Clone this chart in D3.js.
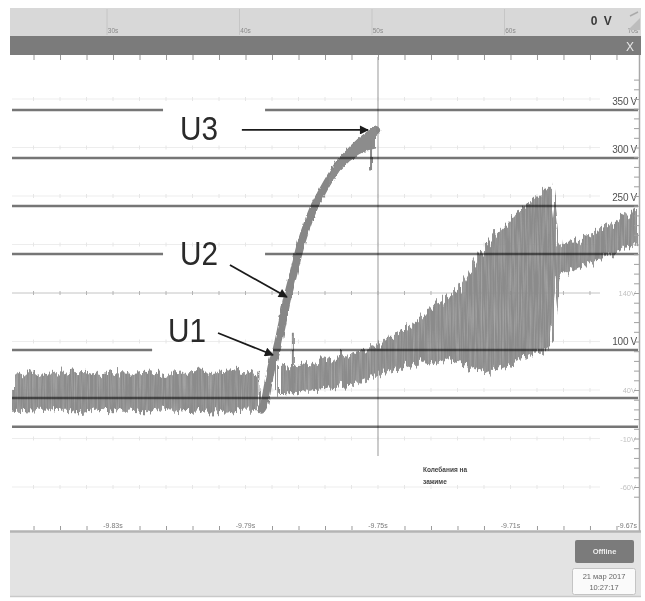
<!DOCTYPE html>
<html>
<head>
<meta charset="utf-8">
<script src="https://cdn.jsdelivr.net/npm/d3@7"></script>
<style>
  html, body { margin: 0; padding: 0; background: #fff; }
  svg { display: block; font-family: "Liberation Sans", Arial, sans-serif; }
</style>
</head>
<body>
<svg id="scope" width="645" height="601"></svg>
<script>
// ---- time axis ----
const tickTimes  = [-9.83, -9.79, -9.75, -9.71, -9.67];
const tickLabels = ["-9.83s", "-9.79s", "-9.75s", "-9.71s", "-9.67s"];
const overviewLabels = ["30s", "40s", "50s", "60s", "70s"];

// ---- voltage reference levels ----
const levelValues = [350, 300, 250, 200, 100, 50, 20];
const levelGapStart = [-9.8149, null, null, -9.8149, -9.8182, null, null];
const levelGapEnd   = [-9.7841, null, null, -9.7841, -9.7817, null, null];
const levelLabelValues = [350, 300, 250, 100];
const levelLabels = ["350 V", "300 V", "250 V", "100 V"];

// faint auxiliary channel grid
const auxRows = [340, 290, 240, 190, 140, 90, 40, -10, -60];
const auxLabelValues = [140, 40, -10, -60];
const auxLabels = ["140V", "40V", "-10V", "-60V"];

// ---- trace U (baseline before the step), V ----
const baseTime = [-9.8605, -9.855, -9.850, -9.845, -9.840, -9.835, -9.830, -9.825,
                  -9.820, -9.815, -9.810, -9.805, -9.800, -9.795, -9.790, -9.7852];
const baseHigh = [75, 77, 74, 76, 78, 75, 77, 76, 79, 75, 77, 78, 76, 79, 77, 75];
const baseLow  = [37, 36, 39, 37, 35, 38, 36, 37, 35, 38, 36, 37, 35, 36, 38, 37];

// ---- rising edge U1 -> U2 -> U3, V ----
const riseTime  = [-9.7852, -9.7844, -9.7832, -9.7820, -9.7805, -9.7790, -9.7775, -9.7760,
                   -9.7745, -9.7729, -9.7711, -9.7690, -9.7669, -9.7645, -9.7615, -9.7585,
                   -9.7554, -9.7530, -9.7506];
const riseVolts = [38, 43, 63.5, 84.4, 102, 126, 152, 173, 194, 214.6, 233, 251, 264.6,
                   279, 295, 306, 316.7, 323, 329];
// noisy crest of the edge
const crestTime = [-9.7645, -9.7615, -9.7585, -9.7554, -9.7530, -9.7506];
const crestHigh = [284, 300, 312, 322, 328, 334];
const crestLow  = [272, 287, 297, 304, 308, 310];

// ---- second trace (after the step, with oscillation), V ----
const trace2Time = [-9.7805, -9.775, -9.770, -9.765, -9.760, -9.755, -9.750, -9.745, -9.740,
                    -9.735, -9.730, -9.725, -9.720, -9.715, -9.710, -9.705, -9.700, -9.6975,
                    -9.6955, -9.695, -9.690, -9.685, -9.680, -9.675, -9.6715];
const trace2High = [81, 84, 87, 90, 95, 100, 107, 116, 126, 140, 152, 165, 196, 220, 238,
                    251, 265, 272, 212, 209, 215, 223, 230, 241, 248];
const trace2Low  = [53, 56, 58, 60, 63, 67, 74, 79, 84, 87, 90, 84, 79, 77, 84, 92, 100,
                    108, 168, 180, 185, 192, 199, 206, 211];

// isolated spikes
const spikeTime = [-9.7757, -9.7521];
const spikeHigh = [119, 319];
const spikeLow  = [53, 287];

// ---- annotations ----
const noteNames  = ["U3", "U2", "U1"];
const noteTime   = [-9.8098, -9.8098, -9.8134];
const noteVolt   = [318.75, 188.5, 108.3];
const arrowFromT = [-9.7911, -9.7947, -9.7983];
const arrowFromV = [329.2, 188.5, 117.7];
const arrowToT   = [-9.7530, -9.7775, -9.7817];
const arrowToV   = [329.2, 155.2, 94.8];
const memoLines  = ["Колебания на", "зажиме"];

// ---- scales ----
const x = d3.scaleLinear().domain([-9.8605, -9.6715]).range([12, 638]);
const y = d3.scaleLinear().domain([0, 350]).range([446, 110]);
const yAux = d3.scaleLinear().domain([-60, 140]).range([487, 293]);

const svg = d3.select("#scope");
const defs = svg.append("defs");

// grain for the sampled traces
const f = defs.append("filter").attr("id", "grain")
  .attr("filterUnits", "userSpaceOnUse").attr("x", 0).attr("y", 0)
  .attr("width", 645).attr("height", 601);
f.append("feTurbulence").attr("type", "fractalNoise").attr("baseFrequency", "0.4 0.015")
  .attr("numOctaves", 2).attr("seed", 7).attr("result", "n");
f.append("feDisplacementMap").attr("in", "SourceGraphic").attr("in2", "n").attr("scale", 18)
  .attr("xChannelSelector", "B").attr("yChannelSelector", "G").attr("result", "d");
f.append("feTurbulence").attr("type", "fractalNoise").attr("baseFrequency", "0.7 0.03")
  .attr("numOctaves", 1).attr("seed", 3).attr("result", "n2");
f.append("feColorMatrix").attr("in", "n2").attr("type", "matrix")
  .attr("values", "0 0 0 0 0  0 0 0 0 0  0 0 0 0 0  0.6 0 0 0 0.65").attr("result", "m");
f.append("feComposite").attr("in", "d").attr("in2", "m").attr("operator", "in").attr("result", "s");
f.append("feGaussianBlur").attr("in", "s").attr("stdDeviation", 0.7);

const f2 = defs.append("filter").attr("id", "grainSoft")
  .attr("filterUnits", "userSpaceOnUse").attr("x", 0).attr("y", 0)
  .attr("width", 645).attr("height", 601);
f2.append("feTurbulence").attr("type", "fractalNoise").attr("baseFrequency", "0.5 0.08")
  .attr("numOctaves", 2).attr("seed", 11).attr("result", "n");
f2.append("feDisplacementMap").attr("in", "SourceGraphic").attr("in2", "n").attr("scale", 3.5)
  .attr("xChannelSelector", "R").attr("yChannelSelector", "G").attr("result", "d");
f2.append("feGaussianBlur").attr("in", "d").attr("stdDeviation", 0.6);

defs.append("clipPath").attr("id", "plotClip").append("rect")
  .attr("x", 12).attr("y", 56).attr("width", 626).attr("height", 474);

const ah = defs.append("marker").attr("id", "head").attr("viewBox", "0 0 10 10")
  .attr("refX", 9).attr("refY", 5).attr("markerWidth", 7).attr("markerHeight", 5)
  .attr("markerUnits", "strokeWidth").attr("orient", "auto");
ah.append("path").attr("d", "M0,0 L10,5 L0,10 Z").attr("fill", "#1b1b1b");

// ---- header strip ----
svg.append("rect").attr("x", 10).attr("y", 8).attr("width", 631).attr("height", 28).attr("fill", "#d8d8d8");
svg.append("g").selectAll("line").data(tickTimes.slice(0, 4)).join("line")
  .attr("x1", d => x(d) - 6).attr("x2", d => x(d) - 6).attr("y1", 9).attr("y2", 35)
  .attr("stroke", "#c6c6c6").attr("stroke-width", 1);
svg.append("g").selectAll("text").data(overviewLabels).join("text")
  .attr("x", (d, i) => Math.min(x(tickTimes[i]), 633)).attr("y", 33)
  .attr("text-anchor", "middle").attr("font-size", 6.5).attr("fill", "#8a8a8a").text(d => d);
svg.append("text").attr("x", 602).attr("y", 25).attr("text-anchor", "middle")
  .attr("font-size", 12).attr("font-weight", "bold").attr("letter-spacing", 1.5)
  .attr("fill", "#3a3a3a").text("0 V");
svg.append("path").attr("d", "M628,30 L640,18 L640,30 Z").attr("fill", "#bdbdbd");
svg.append("path").attr("d", "M630,16 L638,12").attr("stroke", "#aaa").attr("stroke-width", 1.5);

svg.append("rect").attr("x", 10).attr("y", 36).attr("width", 631).attr("height", 19).attr("fill", "#7b7b7b");
svg.append("text").attr("x", 630).attr("y", 51).attr("text-anchor", "middle")
  .attr("font-size", 12).attr("fill", "#e6e6e6").text("X");

const minorTimes = d3.range(0, 24).map(k => -9.854 + 0.008 * k);
const topAxis = svg.append("g").attr("transform", "translate(0,55)")
  .call(d3.axisBottom(x).tickValues(minorTimes.filter(t => x(t) < 636)).tickSize(5).tickFormat(""));
topAxis.select(".domain").remove();
topAxis.selectAll("line").attr("stroke", "#9a9a9a");

// ---- faint grid ----
const plot = svg.append("g");
plot.append("g").selectAll("line").data(auxRows).join("line")
  .attr("x1", 12).attr("x2", 600).attr("y1", d => yAux(d)).attr("y2", d => yAux(d))
  .attr("stroke", d => d === 140 ? "#c4c4c4" : "#ededed").attr("stroke-width", 1);
auxRows.forEach(r => {
  plot.append("g").selectAll("line").data(minorTimes.filter(t => x(t) < 600)).join("line")
    .attr("x1", d => x(d)).attr("x2", d => x(d))
    .attr("y1", yAux(r) - 2).attr("y2", yAux(r) + 2)
    .attr("stroke", r === 140 ? "#b4b4b4" : "#e6e6e6").attr("stroke-width", 1);
});
plot.append("g").selectAll("text").data(auxLabels).join("text")
  .attr("x", 636).attr("y", (d, i) => yAux(auxLabelValues[i]) + 3)
  .attr("text-anchor", "end").attr("font-size", 7.5).attr("fill", "#c2c2c2").text(d => d);

// trigger cursor
plot.append("line").attr("x1", x(-9.75)).attr("x2", x(-9.75)).attr("y1", 57).attr("y2", 456)
  .attr("stroke", "#a9a9a9").attr("stroke-width", 1.2);

// ---- traces ----
const traces = plot.append("g").attr("clip-path", "url(#plotClip)");
const band = (T, H, L) => d3.area().x((d, i) => x(T[i])).y0((d, i) => y(L[i])).y1((d, i) => y(H[i]))(T);

const noisy = traces.append("g").attr("filter", "url(#grain)");
noisy.append("path").attr("d", band(baseTime, baseHigh, baseLow)).attr("fill", "#8b8b8b");
noisy.append("path").attr("d", band(trace2Time, trace2High, trace2Low)).attr("fill", "#8b8b8b");

const soft = traces.append("g").attr("filter", "url(#grainSoft)");
soft.append("path")
  .attr("d", d3.line().x((d, i) => x(riseTime[i])).y((d, i) => y(riseVolts[i])).curve(d3.curveCatmullRom)(riseTime))
  .attr("fill", "none").attr("stroke", "#878787").attr("stroke-width", 8).attr("stroke-linecap", "round");
soft.append("path").attr("d", band(crestTime, crestHigh, crestLow)).attr("fill", "#8c8c8c");
soft.selectAll("line.spike").data(spikeTime).join("line").attr("class", "spike")
  .attr("x1", d => x(d)).attr("x2", d => x(d))
  .attr("y1", (d, i) => y(spikeHigh[i])).attr("y2", (d, i) => y(spikeLow[i]))
  .attr("stroke", "#8a8a8a").attr("stroke-width", 2);

// ---- reference levels ----
const levels = plot.append("g").style("mix-blend-mode", "multiply");
levelValues.forEach((v, i) => {
  const segs = levelGapStart[i] === null
    ? [[x.domain()[0], x.domain()[1]]]
    : [[x.domain()[0], levelGapStart[i]], [levelGapEnd[i], x.domain()[1]]];
  segs.forEach(s => levels.append("line")
    .attr("x1", x(s[0])).attr("x2", x(s[1])).attr("y1", y(v)).attr("y2", y(v))
    .attr("stroke", "#767676").attr("stroke-width", 2.6));
});
plot.append("g").selectAll("text").data(levelLabels).join("text")
  .attr("x", 637).attr("y", (d, i) => y(levelLabelValues[i]) - 5)
  .attr("text-anchor", "end").attr("font-size", 10).attr("letter-spacing", -0.3)
  .attr("fill", "#505050").text(d => d);

// ---- annotations ----
const notes = plot.append("g");
notes.selectAll("line").data(noteNames).join("line")
  .attr("x1", (d, i) => x(arrowFromT[i])).attr("y1", (d, i) => y(arrowFromV[i]))
  .attr("x2", (d, i) => x(arrowToT[i])).attr("y2", (d, i) => y(arrowToV[i]))
  .attr("stroke", "#1b1b1b").attr("stroke-width", 1.8).attr("marker-end", "url(#head)");
notes.selectAll("text").data(noteNames).join("text")
  .attr("x", (d, i) => x(noteTime[i])).attr("y", (d, i) => y(noteVolt[i]))
  .attr("font-size", 34).attr("textLength", 38).attr("lengthAdjust", "spacingAndGlyphs")
  .attr("fill", "#2a2a2a").text(d => d);

plot.append("g").selectAll("text").data(memoLines).join("text")
  .attr("x", 423).attr("y", (d, i) => 472 + i * 12)
  .attr("font-size", 6.5).attr("font-weight", "bold").attr("fill", "#444").text(d => d);

// ---- right axis ----
svg.append("line").attr("x1", 639.5).attr("x2", 639.5).attr("y1", 55).attr("y2", 531)
  .attr("stroke", "#a8a8a8").attr("stroke-width", 1.5);
const rightTicks = d3.range(-70, 361, 10);
const rAxis = svg.append("g").attr("transform", "translate(639,0)")
  .call(d3.axisLeft(yAux).tickValues(rightTicks.filter(v => yAux(v) > 58 && yAux(v) < 528)).tickSize(5).tickFormat(""));
rAxis.select(".domain").remove();
rAxis.selectAll("line").attr("stroke", "#a0a0a0");

// ---- bottom axis ----
const bAxis = svg.append("g").attr("transform", "translate(0,530)")
  .call(d3.axisTop(x).tickValues(minorTimes.filter(t => !tickTimes.some(m => Math.abs(m - t) < 1e-6))).tickSize(4).tickFormat(""));
bAxis.select(".domain").remove();
bAxis.selectAll("line").attr("stroke", "#9a9a9a");
svg.append("g").selectAll("text").data(tickLabels).join("text")
  .attr("x", (d, i) => i === tickLabels.length - 1 ? 637 : x(tickTimes[i]))
  .attr("y", 528).attr("text-anchor", (d, i) => i === tickLabels.length - 1 ? "end" : "middle")
  .attr("font-size", 7).attr("fill", "#7a7a7a").text(d => d);

// ---- status panel ----
svg.append("rect").attr("x", 10).attr("y", 532).attr("width", 631).attr("height", 64).attr("fill", "#e3e3e3");
svg.append("line").attr("x1", 10).attr("x2", 641).attr("y1", 531.5).attr("y2", 531.5)
  .attr("stroke", "#b4b4b4").attr("stroke-width", 2.5);
svg.append("line").attr("x1", 10).attr("x2", 641).attr("y1", 596.5).attr("y2", 596.5)
  .attr("stroke", "#c9c9c9").attr("stroke-width", 1.5);
svg.append("rect").attr("x", 575).attr("y", 540).attr("width", 59).attr("height", 23).attr("rx", 2)
  .attr("fill", "#7b7b7b");
svg.append("text").attr("x", 604.5).attr("y", 554).attr("text-anchor", "middle")
  .attr("font-size", 7.5).attr("font-weight", "bold").attr("fill", "#eeeeee").text("Offline");
svg.append("rect").attr("x", 572.5).attr("y", 568.5).attr("width", 63).attr("height", 26).attr("rx", 2)
  .attr("fill", "#fafafa").attr("stroke", "#c4c4c4");
svg.append("text").attr("x", 604).attr("y", 579).attr("text-anchor", "middle")
  .attr("font-size", 7.5).attr("fill", "#666").text("21 мар 2017");
svg.append("text").attr("x", 604).attr("y", 590).attr("text-anchor", "middle")
  .attr("font-size", 7.5).attr("fill", "#666").text("10:27:17");
</script>
</body>
</html>
